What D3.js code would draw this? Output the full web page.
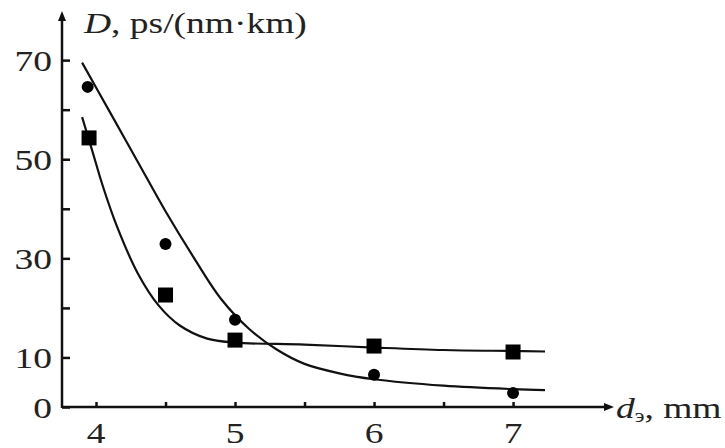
<!DOCTYPE html>
<html>
<head>
<meta charset="utf-8">
<script src="https://cdn.jsdelivr.net/npm/d3@7"></script>
<style>
  body { margin: 0; background: #fff; }
  svg text { font-family: "Liberation Serif", "Times New Roman", serif; fill: #222; }
</style>
</head>
<body>
<svg class="chart"></svg>
<script>
//======
// Data
//======

// measured points, circles and squares
var circleX = [3.94, 4.5, 5, 6, 7];
var circleY = [64.6, 32.9, 17.6, 6.5, 2.8];
var squareX = [3.95, 4.5, 5, 6, 7];
var squareY = [54.3, 22.6, 13.5, 12.3, 11.1];

// fitted curves
var fitCircleX = [3.9, 4.1, 4.3, 4.5, 4.7, 4.9, 5.1, 5.3, 5.5, 5.75, 6, 6.5, 7, 7.23];
var fitCircleY = [69.5, 59.5, 49.5, 39.5, 30.3, 21.8, 15.8, 11.6, 8.7, 6.8, 5.6, 4.3, 3.6, 3.4];
var fitSquareX = [3.9, 3.97, 4.05, 4.15, 4.3, 4.45, 4.6, 4.8, 5, 5.5, 6, 6.5, 7, 7.23];
var fitSquareY = [58.5, 52, 44.5, 36.5, 27, 20.5, 16.5, 13.8, 13, 12.6, 12, 11.5, 11.3, 11.2];

// ticks
var xTicks = [4, 4.5, 5, 5.5, 6, 6.5, 7];
var xTickLabels = [4, 5, 6, 7];
var yTicks = [0, 10, 20, 30, 40, 50, 60, 70];
var yTickLabels = [0, 10, 30, 50, 70];

//=======
// Chart
//=======

var width = 725,
  height = 448,
  stretch = 1.25; // the original text is stretched wide

var svg = d3.select(".chart")
  .attr("width", width)
  .attr("height", height);

var x = d3.scaleLinear()
  .domain([3.7554, 7.683])
  .range([62, 608]);

var y = d3.scaleLinear()
  .domain([0, 78.5])
  .range([407, 18]);

// Axes
svg.append("g")
  .attr("transform", "translate(0," + y(0) + ")")
  .call(d3.axisBottom(x).tickValues(xTicks).tickSize(-5).tickFormat(""))
  .call(function(g) {
    g.select(".domain").remove();
    g.selectAll("line").attr("stroke", "#111").attr("stroke-width", 2.5);
  });

svg.append("g")
  .attr("transform", "translate(" + x.range()[0] + ",0)")
  .call(d3.axisLeft(y).tickValues(yTicks).tickSize(-8).tickFormat(""))
  .call(function(g) {
    g.select(".domain").remove();
    g.selectAll("line").attr("stroke", "#111").attr("stroke-width", 2.5);
  });

// axis lines with arrows
svg.append("line")
  .attr("x1", x.range()[0]).attr("x2", 606)
  .attr("y1", y(0)).attr("y2", y(0))
  .attr("stroke", "#111").attr("stroke-width", 2.5);
svg.append("path")
  .attr("d", "M614," + y(0) + "L604," + (y(0) - 4) + "L604," + (y(0) + 4) + "Z")
  .attr("fill", "#111");

svg.append("line")
  .attr("x1", x.range()[0]).attr("x2", x.range()[0])
  .attr("y1", y(0) + 1).attr("y2", 20)
  .attr("stroke", "#111").attr("stroke-width", 2.5);
svg.append("path")
  .attr("d", "M62,11L58,21L66,21Z")
  .attr("fill", "#111");

// tick labels
xTickLabels.forEach(function(v) {
  svg.append("text")
    .attr("transform", "translate(" + x(v) + "," + 443 + ") scale(" + stretch + ",1)")
    .attr("text-anchor", "middle")
    .attr("font-size", 30)
    .text(v);
});

yTickLabels.forEach(function(v) {
  svg.append("text")
    .attr("transform", "translate(52," + (y(v) + 11) + ") scale(" + stretch + ",1)")
    .attr("text-anchor", "end")
    .attr("font-size", 30)
    .text(v);
});

// axis titles
var yTitle = svg.append("text")
  .attr("transform", "translate(84,33) scale(" + stretch + ",1)")
  .attr("font-size", 30);
yTitle.append("tspan").attr("font-style", "italic").text("D");
yTitle.append("tspan").text(", ps/(nm·km)");

var xTitle = svg.append("text")
  .attr("transform", "translate(616,418) scale(" + stretch + ",1)")
  .attr("font-size", 30);
xTitle.append("tspan").attr("font-style", "italic").text("d");
xTitle.append("tspan").attr("font-size", 18).attr("dy", 4).text("э");
xTitle.append("tspan").attr("dy", -4).text(", mm");

// Fitted curves
var line = d3.line()
  .x(function(d) { return x(d[0]); })
  .y(function(d) { return y(d[1]); })
  .curve(d3.curveCatmullRom.alpha(0.5));

svg.append("path")
  .datum(d3.zip(fitCircleX, fitCircleY))
  .attr("d", line)
  .attr("fill", "none")
  .attr("stroke", "#111")
  .attr("stroke-width", 2.2);

svg.append("path")
  .datum(d3.zip(fitSquareX, fitSquareY))
  .attr("d", line)
  .attr("fill", "none")
  .attr("stroke", "#111")
  .attr("stroke-width", 2.2);

// Add dots
svg.selectAll("circle.pt")
  .data(d3.zip(circleX, circleY))
  .enter()
  .append("circle")
  .attr("class", "pt")
  .attr("cx", function(d) { return x(d[0]); })
  .attr("cy", function(d) { return y(d[1]); })
  .attr("r", 6)
  .attr("fill", "#000");

var sq = 15;
svg.selectAll("rect.pt")
  .data(d3.zip(squareX, squareY))
  .enter()
  .append("rect")
  .attr("class", "pt")
  .attr("x", function(d) { return x(d[0]) - sq / 2; })
  .attr("y", function(d) { return y(d[1]) - sq / 2; })
  .attr("width", sq)
  .attr("height", sq)
  .attr("fill", "#000");
</script>
</body>
</html>
